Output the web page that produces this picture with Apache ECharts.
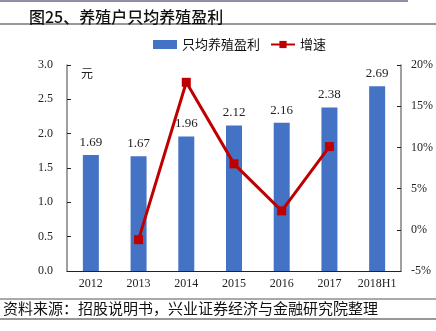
<!DOCTYPE html>
<html>
<head>
<meta charset="utf-8">
<script src="https://cdn.jsdelivr.net/npm/echarts@6/dist/echarts.min.js"></script>
<style>
html,body{margin:0;padding:0;background:#fff;}
#chart{width:436px;height:331px;}
</style>
</head>
<body>
<div id="chart"></div>
<script>
// 年份
const categories = ['2012', '2013', '2014', '2015', '2016', '2017', '2018H1'];
// 只均养殖盈利（元）
const profitPerHead = [1.69, 1.67, 1.96, 2.12, 2.16, 2.38, 2.69];
// 增速（%）
const growthRate = [null, -1.2, 17.9, 8.0, 2.3, 10.1, null];
// 坐标轴刻度
const leftTicks = { min: 0, max: 3, interval: 0.5 };
const rightTicks = { min: -5, max: 20, interval: 5 };

const serif = '"Liberation Serif", "DejaVu Serif", serif';
const cjk = '"Noto Sans CJK SC", sans-serif';
const axisColor = '#808080';

const chart = echarts.init(document.getElementById('chart'), null, { renderer: 'canvas' });
chart.setOption({
  animation: false,
  backgroundColor: '#fff',
  title: {
    text: '图25、养殖户只均养殖盈利',
    left: 24, top: 4,
    textStyle: { fontFamily: cjk, fontSize: 16, fontWeight: 500, color: '#111' }
  },
  legend: {
    top: 33, left: 148,
    itemWidth: 24, itemHeight: 9, itemGap: 10,
    textStyle: { fontFamily: cjk, fontSize: 13, color: '#111' },
    data: [
      { name: '只均养殖盈利', icon: 'rect' },
      { name: '增速' }
    ]
  },
  grid: { left: 67, right: 35, top: 65, bottom: 60 },
  xAxis: {
    type: 'category',
    data: categories,
    axisLine: { lineStyle: { color: '#222', width: 1 } },
    axisTick: { inside: true, length: 5, lineStyle: { color: '#222' } },
    axisLabel: { interval: 0, fontFamily: serif, fontSize: 12, color: '#222', margin: 7 }
  },
  yAxis: [
    {
      type: 'value',
      min: leftTicks.min, max: leftTicks.max, interval: leftTicks.interval,
      name: '元', nameLocation: 'end', nameGap: -14,
      nameTextStyle: { fontFamily: cjk, fontSize: 12, color: '#222', align: 'left', padding: [0, 0, 0, 14] },
      axisLine: { show: true, lineStyle: { color: axisColor, width: 1.5 } },
      axisTick: { show: true, inside: true, length: 4, lineStyle: { color: '#222' } },
      splitLine: { show: false },
      axisLabel: {
        fontFamily: serif, fontSize: 12, color: '#222', margin: 14,
        formatter: v => v.toFixed(1)
      }
    },
    {
      type: 'value',
      min: rightTicks.min, max: rightTicks.max, interval: rightTicks.interval,
      axisLine: { show: true, lineStyle: { color: axisColor, width: 1.5 } },
      axisTick: { show: true, inside: true, length: 4, lineStyle: { color: '#222' } },
      splitLine: { show: false },
      axisLabel: {
        fontFamily: serif, fontSize: 12, color: '#222', margin: 10,
        formatter: v => v + '%'
      }
    }
  ],
  series: [
    {
      name: '只均养殖盈利',
      type: 'bar',
      yAxisIndex: 0,
      data: profitPerHead,
      barWidth: 16,
      itemStyle: { color: '#4472C4' },
      label: {
        show: true, position: 'top', distance: 6,
        fontFamily: serif, fontSize: 13, color: '#222',
        formatter: p => p.value.toFixed(2)
      },
      z: 2
    },
    {
      name: '增速',
      type: 'line',
      yAxisIndex: 1,
      data: growthRate,
      connectNulls: false,
      symbol: 'rect',
      symbolSize: 9,
      lineStyle: { color: '#C00000', width: 3 },
      itemStyle: { color: '#C00000' },
      z: 5
    }
  ],
  graphic: [
    { type: 'rect', shape: { x: 0, y: 0, width: 408, height: 2 }, style: { fill: '#8f8fa3' } },
    { type: 'line', shape: { x1: 0, y1: 24, x2: 436, y2: 24 }, style: { stroke: '#333', lineWidth: 1 } },
    { type: 'line', shape: { x1: 0, y1: 299, x2: 436, y2: 299 }, style: { stroke: '#555', lineWidth: 1 } },
    { type: 'line', shape: { x1: 0, y1: 319, x2: 436, y2: 319 }, style: { stroke: '#333', lineWidth: 1 } },
    {
      type: 'text', left: 3, top: 301,
      style: {
        text: '资料来源：招股说明书，兴业证券经济与金融研究院整理',
        font: '15px "Noto Sans CJK SC", sans-serif', fill: '#111'
      }
    }
  ]
});
</script>
</body>
</html>
